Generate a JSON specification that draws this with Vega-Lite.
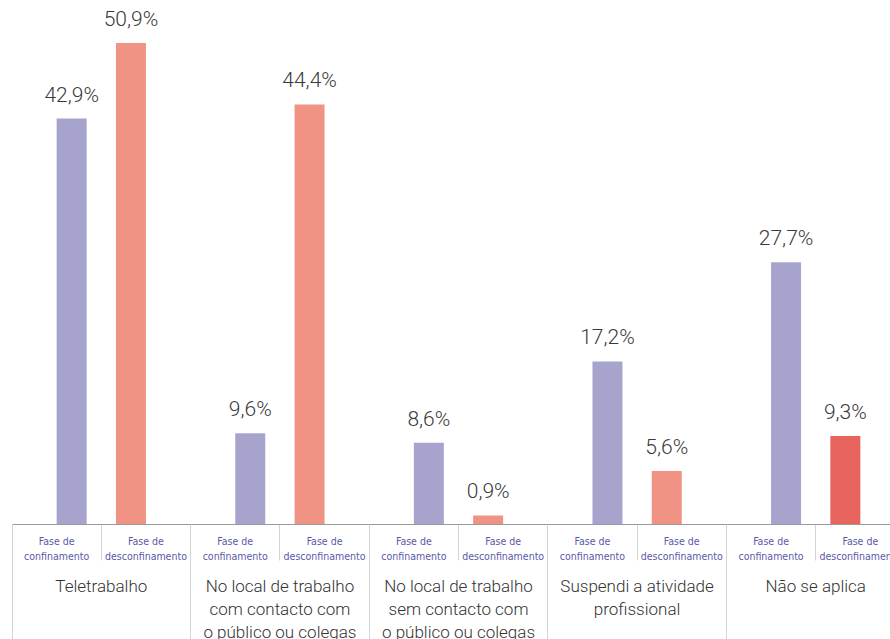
{
  "$schema": "https://vega.github.io/schema/vega-lite/v6.json",
  "width": 878,
  "height": 524,
  "autosize": {"type": "none"},
  "padding": {"left": 12, "top": 0, "right": 0, "bottom": 115},
  "background": "white",
  "config": {"view": {"stroke": null}},
  "data": {"values": [
    {"group": "Teletrabalho", "phase": "Fase de confinamento", "value": 42.9},
    {"group": "Teletrabalho", "phase": "Fase de desconfinamento", "value": 50.9},
    {"group": "No local de trabalho com contacto com o público ou colegas", "phase": "Fase de confinamento", "value": 9.6},
    {"group": "No local de trabalho com contacto com o público ou colegas", "phase": "Fase de desconfinamento", "value": 44.4},
    {"group": "No local de trabalho sem contacto com o público ou colegas", "phase": "Fase de confinamento", "value": 8.6},
    {"group": "No local de trabalho sem contacto com o público ou colegas", "phase": "Fase de desconfinamento", "value": 0.9},
    {"group": "Suspendi a atividade profissional", "phase": "Fase de confinamento", "value": 17.2},
    {"group": "Suspendi a atividade profissional", "phase": "Fase de desconfinamento", "value": 5.6},
    {"group": "Não se aplica", "phase": "Fase de confinamento", "value": 27.7},
    {"group": "Não se aplica", "phase": "Fase de desconfinamento", "value": 9.3}
  ]},
  "transform": [
    {"calculate": "datum.group + '#' + datum.phase", "as": "slot"},
    {"calculate": "replace(format(datum.value, '.1f'), '.', ',') + '%'", "as": "label"}
  ],
  "layer": [
    {
      "mark": {"type": "bar", "width": 30, "xOffset": {"expr": "datum.phase === 'Fase de confinamento' ? 15 : -15"}},
      "encoding": {
        "x": {"field": "slot", "type": "nominal", "sort": null,
          "scale": {"range": [0, 893], "paddingInner": 0, "paddingOuter": 0},
          "axis": {"orient": "bottom", "offset": 0, "title": null, "bandPosition": 0, "labelAngle": 0, "labelOffset": 0,
            "labelExpr": "split(replace(split(datum.value, '#')[1], 'Fase de ', 'Fase de#'), '#')",
            "labelFont": "DejaVu Sans Condensed, sans-serif", "labelFontSize": 10.5, "labelColor": "#5b58a8",
            "labelLineHeight": 15, "labelBaseline": "top", "labelPadding": -24, "labelOverlap": false, "labelBound": false, "labelFlush": false,
            "tickSize": 36, "tickColor": "#d4d4d4", "tickWidth": 1, "domainColor": "#9a9a9a", "domainWidth": 1, "grid": false}},
        "y": {"field": "value", "type": "quantitative", "scale": {"domain": [0, 55.45], "nice": false}, "axis": null},
        "color": {
          "condition": {"test": "datum.group === 'Não se aplica' && datum.phase === 'Fase de desconfinamento'", "value": "#e8655f"},
          "field": "phase", "type": "nominal", "scale": {"range": ["#a6a4cd", "#f09385"]}, "legend": null}
      }
    },
    {
      "mark": {"type": "text", "baseline": "alphabetic", "dy": -17, "font": "Roboto", "fontWeight": 300, "fontSize": 21, "color": "#3a3a3a",
        "xOffset": {"expr": "datum.phase === 'Fase de confinamento' ? 15 : -15"}},
      "encoding": {
        "x": {"field": "slot", "type": "nominal", "sort": null,
          "scale": {"range": [0, 893], "paddingInner": 0, "paddingOuter": 0},
          "axis": {"orient": "bottom", "offset": 0, "title": null, "bandPosition": 0, "labelAngle": 0, "labelOffset": 44.65,
            "labelExpr": "indexof(datum.value, 'desconf') >= 0 ? '' : split(replace(split(datum.value, '#')[0], regexp('(trabalho|contacto com|atividade) ', 'g'), '$1#'), '#')",
            "labelFont": "Roboto", "labelFontWeight": 300, "labelFontSize": 17, "labelColor": "#333333",
            "labelLineHeight": 23, "labelBaseline": "top", "labelPadding": -61, "labelOverlap": false, "labelBound": false, "labelFlush": false,
            "tickSize": 115, "tickColor": "#d4d4d4", "tickWidth": 1,
            "tickOpacity": {"condition": {"test": "indexof(datum.value, 'desconf') >= 0", "value": 0}, "value": 1},
            "domain": false, "grid": false}},
        "y": {"field": "value", "type": "quantitative"},
        "text": {"field": "label", "type": "nominal"}
      }
    }
  ],
  "resolve": {"axis": {"x": "independent"}}
}
